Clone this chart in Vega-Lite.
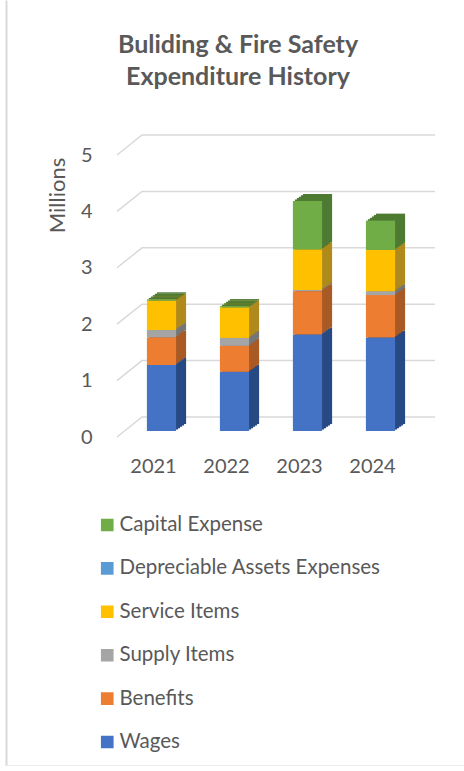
{
"$schema":"https://vega.github.io/schema/vega-lite/v6.json",
"width":459,"height":765,
"autosize":{"type":"none"},
"padding":{"left":5,"top":0,"right":0,"bottom":6},
"background":"white",
"view":{"stroke":null},
"title":{"text":["Buliding & Fire Safety","Expenditure History"],"frame":"group","anchor":"middle","dx":3.5,"offset":-110,"baseline":"alphabetic","font":"Lato","fontSize":25,"fontWeight":"bold","color":"#595959","lineHeight":32},
"datasets":{
"bars":[
{"year":"2021","category":"Wages","rank":1,"value":1.17},
{"year":"2021","category":"Benefits","rank":2,"value":0.49},
{"year":"2021","category":"Supply Items","rank":3,"value":0.13},
{"year":"2021","category":"Service Items","rank":4,"value":0.52},
{"year":"2021","category":"Depreciable Assets Expenses","rank":5,"value":0},
{"year":"2021","category":"Capital Expense","rank":6,"value":0.025},
{"year":"2022","category":"Wages","rank":1,"value":1.05},
{"year":"2022","category":"Benefits","rank":2,"value":0.46},
{"year":"2022","category":"Supply Items","rank":3,"value":0.14},
{"year":"2022","category":"Service Items","rank":4,"value":0.54},
{"year":"2022","category":"Depreciable Assets Expenses","rank":5,"value":0},
{"year":"2022","category":"Capital Expense","rank":6,"value":0.025},
{"year":"2023","category":"Wages","rank":1,"value":1.71},
{"year":"2023","category":"Benefits","rank":2,"value":0.77},
{"year":"2023","category":"Supply Items","rank":3,"value":0.02},
{"year":"2023","category":"Service Items","rank":4,"value":0.72},
{"year":"2023","category":"Depreciable Assets Expenses","rank":5,"value":0},
{"year":"2023","category":"Capital Expense","rank":6,"value":0.86},
{"year":"2024","category":"Wages","rank":1,"value":1.66},
{"year":"2024","category":"Benefits","rank":2,"value":0.75},
{"year":"2024","category":"Supply Items","rank":3,"value":0.07},
{"year":"2024","category":"Service Items","rank":4,"value":0.73},
{"year":"2024","category":"Depreciable Assets Expenses","rank":5,"value":0},
{"year":"2024","category":"Capital Expense","rank":6,"value":0.52}
],
"grid":[
{"tick":0,"pos":0,"level":-0.106},{"tick":0,"pos":1,"level":0.248},{"tick":0,"pos":12.72,"level":0.248},
{"tick":1,"pos":0,"level":0.894},{"tick":1,"pos":1,"level":1.248},{"tick":1,"pos":12.72,"level":1.248},
{"tick":2,"pos":0,"level":1.894},{"tick":2,"pos":1,"level":2.248},{"tick":2,"pos":12.72,"level":2.248},
{"tick":3,"pos":0,"level":2.894},{"tick":3,"pos":1,"level":3.248},{"tick":3,"pos":12.72,"level":3.248},
{"tick":4,"pos":0,"level":3.894},{"tick":4,"pos":1,"level":4.248},{"tick":4,"pos":12.72,"level":4.248},
{"tick":5,"pos":0,"level":4.894},{"tick":5,"pos":1,"level":5.248},{"tick":5,"pos":12.72,"level":5.248}
]
},
"resolve":{"scale":{"x":"independent","color":"independent"},"axis":{"x":"independent","y":"independent"}},
"layer":[
{"data":{"name":"grid"},"mark":{"type":"line","color":"#d9d9d9","strokeWidth":1.5,"clip":false},
"encoding":{"x":{"field":"pos","type":"quantitative","scale":{"domain":[-4.48,13.88],"nice":false,"zero":false},"axis":{"orient":"bottom","labels":false,"ticks":false,"grid":false,"title":null,"domain":true,"domainColor":"#ececec","domainWidth":1}},
"y":{"field":"level","type":"quantitative","scale":{"domain":[-5.922,7.642],"nice":false,"zero":false},"axis":{"orient":"left","offset":-1,"labels":false,"ticks":false,"grid":false,"title":null,"domain":true,"domainColor":"#d9d9d9","domainWidth":2}},
"detail":{"field":"tick"}}},
{"data":{"name":"grid"},"mark":{"type":"line","opacity":0},
"encoding":{"x":{"field":"pos","type":"quantitative","scale":{"domain":[-4.48,13.88],"nice":false,"zero":false},"axis":null},
"y":{"field":"level","type":"quantitative","scale":{"domain":[-5.922,7.642],"nice":false,"zero":false},"axis":{"orient":"left","offset":-90,"values":[0,1,2,3,4,5],"format":"d","domain":false,"ticks":false,"grid":false,"labelOffset":6,"labelPadding":3,"labelFont":"Lato","labelFontSize":20,"labelColor":"#595959","title":"Millions","titleFont":"Lato","titleFontSize":22,"titleFontWeight":"normal","titleColor":"#595959","titleX":-26,"titleY":195}},
"detail":{"field":"tick"}}},
{"data":{"name":"bars"},"mark":{"type":"bar","xOffset":10,"x2Offset":10,"yOffset":-7,"y2Offset":-7},"encoding":{"x":{"field":"year","type":"nominal","scale":{"range":[120,412],"paddingInner":0.6,"paddingOuter":0.3},"axis":null},"y":{"field":"value","type":"quantitative","stack":"zero","scale":{"domain":[-5.922,7.642],"nice":false,"zero":false},"axis":null},"order":{"field":"rank"},"color":{"field":"category","type":"nominal","legend":null,"scale":{"domain":["Capital Expense","Depreciable Assets Expenses","Service Items","Supply Items","Benefits","Wages"],"range":["#4E7A32","#3E6F9C","#B08A1C","#767676","#A95A25","#274A85"]}}}},
{"data":{"name":"bars"},"mark":{"type":"bar","xOffset":8,"x2Offset":8,"yOffset":-5.6,"y2Offset":-5.6},"encoding":{"x":{"field":"year","type":"nominal","scale":{"range":[120,412],"paddingInner":0.6,"paddingOuter":0.3},"axis":null},"y":{"field":"value","type":"quantitative","stack":"zero","scale":{"domain":[-5.922,7.642],"nice":false,"zero":false},"axis":null},"order":{"field":"rank"},"color":{"field":"category","type":"nominal","legend":null,"scale":{"domain":["Capital Expense","Depreciable Assets Expenses","Service Items","Supply Items","Benefits","Wages"],"range":["#4E7A32","#3E6F9C","#B08A1C","#767676","#A95A25","#274A85"]}}}},
{"data":{"name":"bars"},"mark":{"type":"bar","xOffset":6,"x2Offset":6,"yOffset":-4.2,"y2Offset":-4.2},"encoding":{"x":{"field":"year","type":"nominal","scale":{"range":[120,412],"paddingInner":0.6,"paddingOuter":0.3},"axis":null},"y":{"field":"value","type":"quantitative","stack":"zero","scale":{"domain":[-5.922,7.642],"nice":false,"zero":false},"axis":null},"order":{"field":"rank"},"color":{"field":"category","type":"nominal","legend":null,"scale":{"domain":["Capital Expense","Depreciable Assets Expenses","Service Items","Supply Items","Benefits","Wages"],"range":["#4E7A32","#3E6F9C","#B08A1C","#767676","#A95A25","#274A85"]}}}},
{"data":{"name":"bars"},"mark":{"type":"bar","xOffset":4,"x2Offset":4,"yOffset":-2.8,"y2Offset":-2.8},"encoding":{"x":{"field":"year","type":"nominal","scale":{"range":[120,412],"paddingInner":0.6,"paddingOuter":0.3},"axis":null},"y":{"field":"value","type":"quantitative","stack":"zero","scale":{"domain":[-5.922,7.642],"nice":false,"zero":false},"axis":null},"order":{"field":"rank"},"color":{"field":"category","type":"nominal","legend":null,"scale":{"domain":["Capital Expense","Depreciable Assets Expenses","Service Items","Supply Items","Benefits","Wages"],"range":["#4E7A32","#3E6F9C","#B08A1C","#767676","#A95A25","#274A85"]}}}},
{"data":{"name":"bars"},"mark":{"type":"bar","xOffset":2,"x2Offset":2,"yOffset":-1.4,"y2Offset":-1.4},"encoding":{"x":{"field":"year","type":"nominal","scale":{"range":[120,412],"paddingInner":0.6,"paddingOuter":0.3},"axis":null},"y":{"field":"value","type":"quantitative","stack":"zero","scale":{"domain":[-5.922,7.642],"nice":false,"zero":false},"axis":null},"order":{"field":"rank"},"color":{"field":"category","type":"nominal","legend":null,"scale":{"domain":["Capital Expense","Depreciable Assets Expenses","Service Items","Supply Items","Benefits","Wages"],"range":["#4E7A32","#3E6F9C","#B08A1C","#767676","#A95A25","#274A85"]}}}},
{"data":{"name":"bars"},"mark":{"type":"bar"},"encoding":{"x":{"field":"year","type":"nominal","scale":{"range":[120,412],"paddingInner":0.6,"paddingOuter":0.3},"axis":{"orient":"bottom","offset":-325,"labelOffset":-8,"labelAngle":0,"labelPadding":16,"domain":false,"ticks":false,"grid":false,"title":null,"labelFont":"Lato","labelFontSize":20,"labelColor":"#595959"}},"y":{"field":"value","type":"quantitative","stack":"zero","scale":{"domain":[-5.922,7.642],"nice":false,"zero":false},"axis":null},"order":{"field":"rank"},"color":{"field":"category","type":"nominal","scale":{"domain":["Capital Expense","Depreciable Assets Expenses","Service Items","Supply Items","Benefits","Wages"],"range":["#70AD47","#5B9BD5","#FFC000","#A5A5A5","#ED7D31","#4472C4"]},"legend":{"orient":"none","legendX":92,"legendY":515,"title":null,"symbolType":"square","symbolSize":160,"symbolStrokeWidth":0,"labelFont":"Lato","labelFontSize":20.5,"labelColor":"#595959","labelLimit":320,"clipHeight":20,"rowPadding":22.4,"labelOffset":2}}}}
]
}
